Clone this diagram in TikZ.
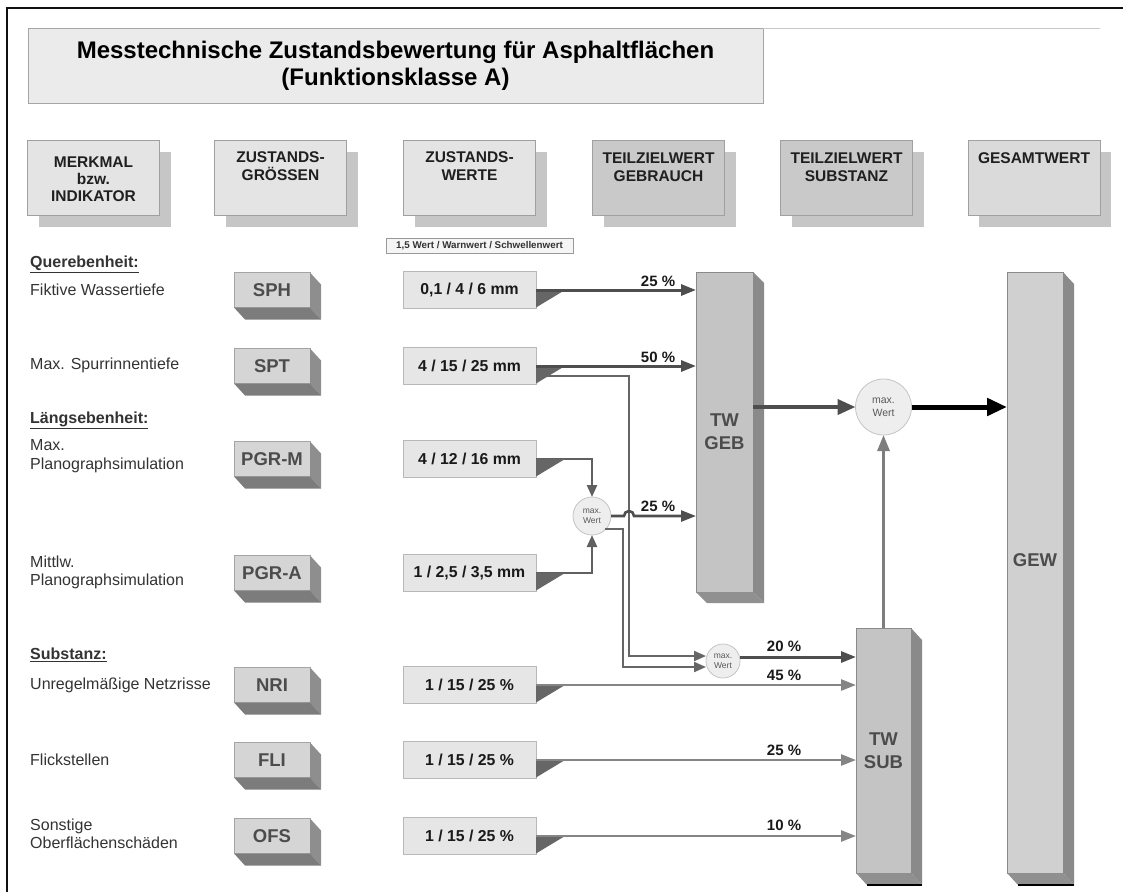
\documentclass[tikz,border=0pt]{standalone}
\usepackage{fontspec}
\setmainfont{Liberation Sans}
\usetikzlibrary{arrows.meta,calc,shadows}

\definecolor{framec}{HTML}{111111}
\definecolor{titlefill}{HTML}{EBEBEB}
\definecolor{titleline}{HTML}{A5A5A5}
\definecolor{hdrlight}{HTML}{E4E4E4}
\definecolor{hdrdark}{HTML}{C9C9C9}
\definecolor{hdrtotal}{HTML}{DADADA}
\definecolor{hdrline}{HTML}{A0A0A0}
\definecolor{hdrshade}{HTML}{C6C6C6}
\definecolor{keyfront}{HTML}{D5D5D5}
\definecolor{keyside}{HTML}{8E8E8E}
\definecolor{keybottom}{HTML}{7C7C7C}
\definecolor{valfill}{HTML}{E6E6E6}
\definecolor{valline}{HTML}{B8B8B8}
\definecolor{wedgec}{HTML}{666666}
\definecolor{barfront}{HTML}{C4C4C4}
\definecolor{barside}{HTML}{8A8A8A}
\definecolor{barbottom}{HTML}{909090}
\definecolor{nodefill}{HTML}{EEEEEE}
\definecolor{nodeline}{HTML}{C4C4C4}
\definecolor{usec}{HTML}{4E4E4E}
\definecolor{linkc}{HTML}{666666}
\definecolor{subc}{HTML}{858585}
\definecolor{labelc}{HTML}{333333}
\definecolor{keytext}{HTML}{4C4C4C}

% extruded faces (right and bottom) of a 3-D box node
\newcommand\depthfaces[5]{%
  \fill[#4] (#1.north east) -- ([shift={(#2pt,-#3pt)}]#1.north east)
     -- ([shift={(#2pt,-#3pt)}]#1.south east) -- (#1.south east) -- cycle;
  \fill[#5] (#1.south west) -- ([shift={(#2pt,-#3pt)}]#1.south west)
     -- ([shift={(#2pt,-#3pt)}]#1.south east) -- (#1.south east) -- cycle;}

\begin{document}
\begin{tikzpicture}[x=1pt,y=-1pt,
  titlebox/.style={draw=titleline,fill=titlefill,line width=0.8pt,minimum width=735pt,
    minimum height=75pt,inner sep=0pt,outer sep=0pt,align=center,
    font=\bfseries\fontsize{24}{27}\selectfont},
  hdr/.style={draw=hdrline,fill=#1,line width=0.7pt,minimum width=132pt,minimum height=75pt,
    inner sep=0pt,outer sep=0pt,
    drop shadow={shadow xshift=11pt,shadow yshift=-12pt,fill=hdrshade,opacity=1}},
  hdrtext/.style={align=center,inner sep=0pt,text=black!88,
    font=\bfseries\fontsize{15.5}{18}\selectfont},
  keybox/.style={draw=keyside!80,fill=keyfront,line width=0.6pt,minimum width=76pt,
    minimum height=35pt,inner sep=0pt,outer sep=0pt,text=keytext,
    font=\bfseries\fontsize{18.5}{20}\selectfont},
  valbox/.style={draw=valline,fill=valfill,line width=0.7pt,minimum width=133pt,
    minimum height=37pt,inner sep=0pt,outer sep=0pt,text=black!90,
    font=\bfseries\fontsize{15.8}{17}\selectfont},
  bar/.style={draw=barside,fill=barfront,line width=0.5pt,minimum width=#1,inner sep=0pt,
    outer sep=0pt,align=center,text=keytext,font=\bfseries\fontsize{18.5}{23}\selectfont},
  maxnode/.style={circle,draw=nodeline,fill=nodefill,line width=0.8pt,minimum size=#1,
    inner sep=0pt,outer sep=0pt,align=center,text=black!65},
  lab/.style={anchor=west,inner sep=0pt,align=left,text=labelc,
    font=\fontsize{16}{18.5}\selectfont},
  sec/.style={lab,font=\bfseries\fontsize{16}{18.5}\selectfont},
  pct/.style={inner sep=0pt,text=black!90,font=\bfseries\fontsize{15}{17}\selectfont},
  usearrow/.style={draw=usec,line width=3pt,-{Triangle[length=15pt,width=11pt]}},
  link/.style={draw=linkc,line width=2pt},
  linkarrow/.style={draw=usec!90,line width=2.5pt,-{Triangle[length=12pt,width=10pt]}},
  subarrow/.style={draw=subc,line width=2.5pt,-{Triangle[length=15pt,width=11pt]}},
  uparrow/.style={draw=subc!95!black,line width=3pt,-{Triangle[length=16pt,width=12pt]}},
  gebout/.style={draw=usec,line width=4pt,-{Triangle[length=18pt,width=15pt]}},
  totalarrow/.style={draw=black,line width=5pt,-{Triangle[length=20pt,width=17pt]}}
]
\useasboundingbox (0,0) rectangle (1123,892);

% frame
\draw[framec,line width=2pt] (1123,8) -- (7,8) -- (7,892);

% title
\node[titlebox] (title) at (395.5,65.5)
  {Messtechnische Zustandsbewertung für Asphaltflächen\\(Funktionsklasse A)};
\draw[black!22,line width=0.8pt] (title.north east) -- (1100,28);

% column headers
\node[hdr=hdrlight] (h1) at (93.5,177.5) {};
\node[hdr=hdrlight] (h2) at (280.5,177.5) {};
\node[hdr=hdrlight] (h3) at (469.5,177.5) {};
\node[hdr=hdrdark]  (h4) at (658.5,177.5) {};
\node[hdr=hdrdark]  (h5) at (846.5,177.5) {};
\node[hdr=hdrtotal] (h6) at (1034,177.5) {};
\node[hdrtext] (h1t) at (93.5,179) {MERKMAL\\[-1pt]bzw.\\[-1pt]INDIKATOR};
\node[hdrtext] (h2t) at (280.5,166.5) {ZUSTANDS-\\GRÖSSEN};
\node[hdrtext] (h3t) at (469.5,166.5) {ZUSTANDS-\\WERTE};
\node[hdrtext] (h4t) at (658.5,167) {TEILZIELWERT\\GEBRAUCH};
\node[hdrtext] (h5t) at (846.5,167) {TEILZIELWERT\\SUBSTANZ};
\node[hdrtext] (h6t) at (1034,158) {GESAMTWERT};

\node[draw=black!40,fill=black!4,line width=0.6pt,minimum width=187pt,minimum height=15pt,
  inner sep=0pt,text=black!80,font=\bfseries\fontsize{9.8}{11}\selectfont]
  (scale) at (479.5,246) {1,5 Wert / Warnwert / Schwellenwert};

% left column: features
\node[sec] (q)  at (30,264) {\underline{Querebenheit:}};
\node[lab] (l1) at (30,290) {Fiktive Wassertiefe};
\node[lab] (l2) at (30,365) {Max. Spurrinnentiefe};
\node[sec] (la) at (30,420) {\underline{Längsebenheit:}};
\node[lab] (l3) at (30,456) {Max.\\Planographsimulation};
\node[lab] (l4) at (30,572.5) {Mittlw.\\Planographsimulation};
\node[sec] (su) at (30,655) {\underline{Substanz:}};
\node[lab] (l5) at (30,685) {Unregelmäßige Netzrisse};
\node[lab] (l6) at (30,760) {Flickstellen};
\node[lab] (l7) at (30,834) {Sonstige\\Oberflächenschäden};

% state variables (3-D keys)
\foreach \n/\y/\t in {k1/290/SPH,k2/366/SPT,k3/459/PGR-M,k4/573/PGR-A,
                      k5/685/NRI,k6/760/FLI,k7/836/OFS}{
  \node[keybox] (\n) at (272,\y) {\t};
  \depthfaces{\n}{11}{12}{keyside}{keybottom}
}

% state values
\node[valbox] (v1) at (469.5,290) {0,1 / 4 / 6 mm};
\node[valbox] (v2) at (469.5,366) {4 / 15 / 25 mm};
\node[valbox] (v3) at (469.5,459) {4 / 12 / 16 mm};
\node[valbox] (v4) at (469.5,573) {1 / 2,5 / 3,5 mm};
\node[valbox] (v5) at (469.5,685) {1 / 15 / 25 \%};
\node[valbox] (v6) at (469.5,760) {1 / 15 / 25 \%};
\node[valbox] (v7) at (469.5,836) {1 / 15 / 25 \%};

% partial target values and total value
\node[bar=57pt,minimum height=320pt] (geb) at (724.5,432) {TW\\GEB};
\depthfaces{geb}{11}{11}{barside}{barbottom}
\node[bar=55pt,minimum height=245pt] (sub) at (883.5,750.5) {TW\\SUB};
\depthfaces{sub}{11}{12}{barside}{barbottom}
\node[bar=56pt,minimum height=601pt,fill=barfront!80!white] (gew) at (1035,572.5) {};
\depthfaces{gew}{11}{12}{barside}{barbottom}
\node[inner sep=0pt,text=keytext,font=\bfseries\fontsize{18.5}{20}\selectfont] (gewt) at (1035,560) {GEW};
\draw[black,line width=1.5pt] ([shift={(11pt,-12pt)}]sub.south west) -- ([shift={(11pt,-12pt)}]sub.south east);
\draw[black,line width=1.5pt] ([shift={(11pt,-12pt)}]gew.south west) -- ([shift={(11pt,-12pt)}]gew.south east);

% maximum nodes
\node[maxnode=38pt,font=\fontsize{8.5}{10.5}\selectfont] (m1) at (592,516) {max.\\Wert};
\node[maxnode=34pt,font=\fontsize{8.5}{10.5}\selectfont] (m2) at (723,661) {max.\\Wert};
\node[maxnode=56pt,font=\fontsize{10.5}{13}\selectfont] (m3) at (883.5,407) {max.\\Wert};

% branch lines
\coordinate (sptdrop) at ([yshift=-10pt]v2.east);
\coordinate (m2inA) at ([yshift=5pt]m2.west);
\coordinate (m2inB) at ([yshift=-6pt]m2.west);
\coordinate (m2out) at ([yshift=4pt]m2.east);
\draw[link,-{Triangle[length=12pt,width=10pt]}] (sptdrop) -| (629,656) -- (m2inA);
\draw[link,-{Triangle[length=12pt,width=10pt]}] (m1.south east) -| (623,667) -- (m2inB);
\draw[linkarrow] (v3.east) -| (m1.north);
\draw[linkarrow] (v4.east) -| (m1.south);

% output wedges of the value boxes
\foreach \v in {v1,v2,v3,v4,v5,v6,v7}{
  \fill[wedgec] (\v.east) -- ([xshift=29pt]\v.east) -- ([yshift=1pt]\v.south east) -- cycle;
}

% weighted arrows into TW GEB
\draw[usearrow] (v1.east) -- (v1.east -| geb.west);
\draw[usearrow] (v2.east) -- (v2.east -| geb.west);
\draw[usearrow,line width=2.6pt] (m1.east) -- (624,516) arc[start angle=180,end angle=0,radius=5pt]
  -- (m1.east -| geb.west);

% weighted arrows into TW SUB
\draw[usearrow] (m2out) -- (m2out -| sub.west);
\draw[subarrow] (v5.east) -- (v5.east -| sub.west);
\draw[subarrow] (v6.east) -- (v6.east -| sub.west);
\draw[subarrow] (v7.east) -- (v7.east -| sub.west);

% combination into the total value
\draw[uparrow] (sub.north) -- (m3.south);
\draw[gebout] (m3.west -| geb.east) -- (m3.west);
\draw[totalarrow] (m3.east) -- (m3.east -| gew.west);

% weights
\node[pct] (p1) at (658,281) {25 \%};
\node[pct] (p2) at (658,357) {50 \%};
\node[pct] (p3) at (658,506) {25 \%};
\node[pct] (p4) at (784,646) {20 \%};
\node[pct] (p5) at (784,675) {45 \%};
\node[pct] (p6) at (784,750) {25 \%};
\node[pct] (p7) at (784,825) {10 \%};
\end{tikzpicture}
\end{document}
